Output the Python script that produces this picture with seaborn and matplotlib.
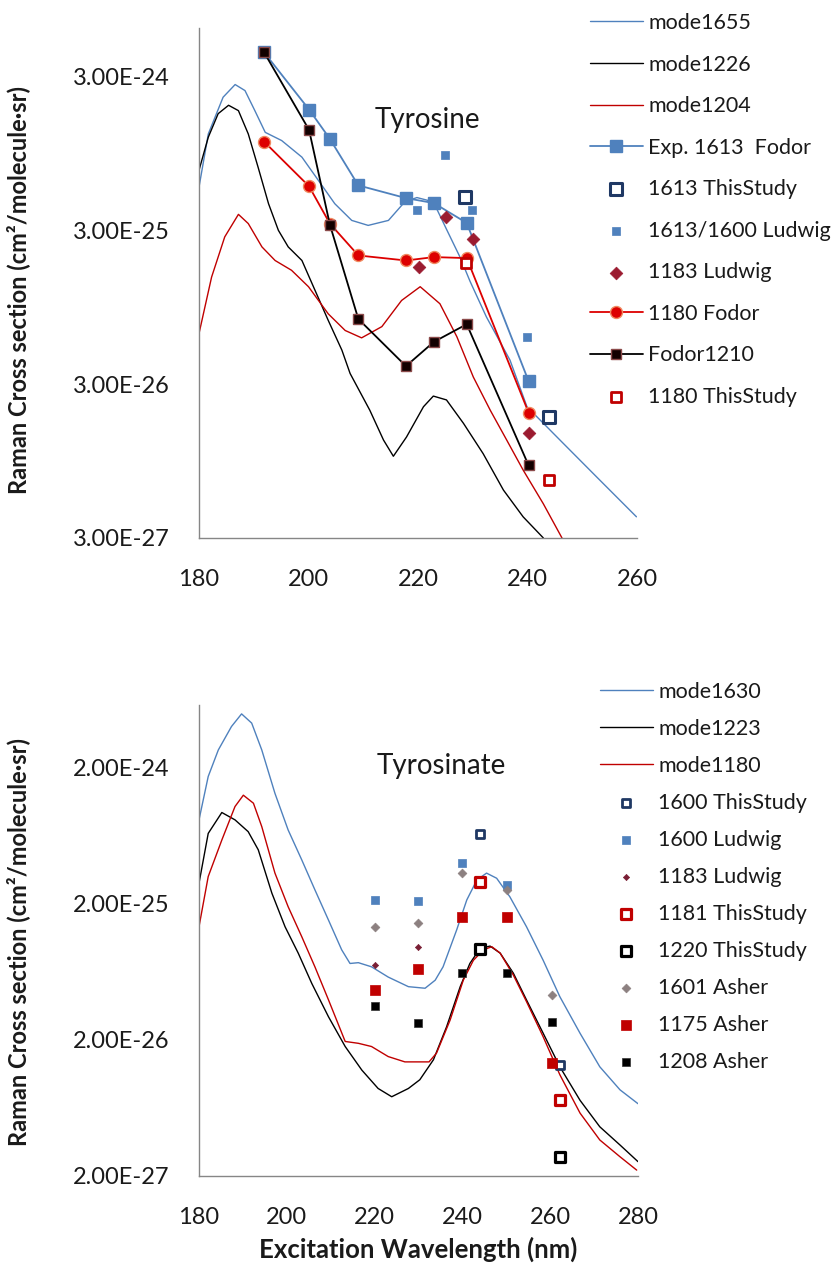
import matplotlib
matplotlib.use("Agg")
import matplotlib.pyplot as plt
from matplotlib.ticker import FixedLocator, FuncFormatter, NullLocator
import seaborn as sns

# ---------------- Tyrosine (top panel) ----------------
tyr_mode1655_nm = [180, 181.7, 184.4, 186.6, 188.4, 190.2, 192.1, 195.1, 198.8, 201.8, 204.8, 207.9,
                   210.9, 214.6, 217.6, 219.8, 222.8, 225.3, 227.7, 229.5, 232.5, 236.8, 239.9, 242.9,
                   246.5, 252.6, 259.9]
tyr_mode1655_val = [5.73e-25, 1.27e-24, 2.20e-24, 2.66e-24, 2.43e-24, 1.80e-24, 1.30e-24, 1.15e-24,
                    8.97e-25, 6.34e-25, 4.47e-25, 3.48e-25, 3.23e-25, 3.48e-25, 4.6e-25, 4.9e-25,
                    4.6e-25, 3.0e-25, 2.0e-25, 1.4e-25, 8.2e-26, 4.3e-26, 2.14e-26, 1.67e-26,
                    1.24e-26, 7.5e-27, 4.12e-27]

tyr_mode1226_nm = [180, 181.7, 183.5, 185.4, 187.2, 189.0, 190.8, 192.7, 194.5, 196.3, 198.8, 201.2,
                   203.6, 206.1, 207.6, 211.2, 213.7, 215.5, 217.9, 221.0, 222.8, 225.2, 228.3, 231.9,
                   235.6, 239.2, 242.9]
tyr_mode1226_val = [7.37e-25, 1.21e-24, 1.72e-24, 1.95e-24, 1.80e-24, 1.27e-24, 7.7e-25, 4.47e-25,
                    3.0e-25, 2.34e-25, 1.91e-25, 1.22e-25, 7.8e-26, 4.99e-26, 3.52e-26, 2.03e-26,
                    1.30e-26, 1.02e-26, 1.36e-26, 2.14e-26, 2.51e-26, 2.37e-26, 1.67e-26, 1.06e-26,
                    6.15e-27, 4.12e-27, 3.0e-27]

tyr_mode1204_nm = [180, 182.3, 184.7, 187.2, 189.0, 191.5, 193.9, 196.9, 200.0, 203.6, 206.7, 209.7,
                   213.4, 217.0, 220.4, 224.0, 227.1, 230.1, 233.2, 236.2, 239.2, 242.9, 246.3]
tyr_mode1204_val = [6.4e-26, 1.49e-25, 2.72e-25, 3.81e-25, 3.32e-25, 2.34e-25, 1.91e-25, 1.65e-25,
                    1.29e-25, 8.6e-26, 6.7e-26, 6.0e-26, 7.1e-26, 1.05e-25, 1.29e-25, 1.0e-25,
                    6.1e-26, 3.34e-26, 2.03e-26, 1.30e-26, 8.3e-27, 5.0e-27, 3.0e-27]

fodor_nm = [191.9, 200.1, 203.9, 209.1, 217.8, 222.9, 228.9, 240.2]
fodor1613_val = [4.3e-24, 1.83e-24, 1.18e-24, 5.88e-25, 4.86e-25, 4.51e-25, 3.35e-25, 3.14e-26]
fodor1180_val = [1.13e-24, 5.8e-25, 3.32e-25, 2.06e-25, 1.91e-25, 2.01e-25, 1.98e-25, 1.96e-26]
fodor1210_val = [4.3e-24, 1.35e-24, 3.27e-25, 7.96e-26, 3.93e-26, 5.65e-26, 7.36e-26, 8.9e-27]

ts1613_nm = [228.6, 244.0]
ts1613_val = [4.94e-25, 1.83e-26]
ludwig1613_nm = [219.8, 224.9, 229.9, 239.9]
ludwig1613_val = [4.05e-25, 9.3e-25, 4.05e-25, 6.1e-26]
ludwig1183_nm = [220.2, 225.2, 230.0, 240.2]
ludwig1183_val = [1.72e-25, 3.66e-25, 2.65e-25, 1.45e-26]
ts1180_nm = [228.7, 244.0]
ts1180_val = [1.83e-25, 7.2e-27]

top_labels = ["mode1655", "mode1226", "mode1204", "Exp. 1613  Fodor", "1613 ThisStudy",
              "1613/1600 Ludwig", "1183 Ludwig", "1180 Fodor", "Fodor1210", "1180 ThisStudy"]
top_yticks = [3e-27, 3e-26, 3e-25, 3e-24]
top_xticks = [180, 200, 220, 240, 260]

# ---------------- Tyrosinate (bottom panel) ----------------
tyn_mode1630_nm = [180, 182.1, 184.4, 187.4, 189.7, 192.0, 194.3, 197.3, 200.3, 203.4, 206.4, 209.5,
                   212.5, 214.4, 216.3, 219.3, 223.1, 227.7, 231.5, 233.8, 235.6, 238.7, 241.0, 243.3,
                   245.5, 247.8, 250.8, 254.6, 258.4, 262.2, 266.8, 271.3, 275.9, 280]
tyn_mode1630_val = [8.3e-25, 1.73e-24, 2.71e-24, 4.03e-24, 4.99e-24, 4.27e-24, 2.71e-24, 1.30e-24,
                    7.0e-25, 4.22e-25, 2.54e-25, 1.52e-25, 9.2e-26, 7.3e-26, 7.4e-26, 6.9e-26,
                    5.8e-26, 4.93e-26, 4.80e-26, 5.5e-26, 6.9e-26, 1.29e-25, 2.14e-25, 3.0e-25,
                    3.37e-25, 3.09e-25, 2.26e-25, 1.36e-25, 7.7e-26, 4.16e-26, 2.24e-26, 1.27e-26,
                    8.6e-27, 6.8e-27]

tyn_mode1223_nm = [180, 182.1, 185.2, 188.2, 191.2, 193.5, 196.6, 199.6, 202.6, 205.7, 209.5, 213.3,
                   217.1, 220.8, 223.9, 227.7, 230.3, 233.4, 236.4, 239.5, 241.7, 244.0, 246.3, 248.6,
                   251.6, 254.6, 258.4, 262.2, 266.8, 271.3, 275.9, 280]
tyn_mode1223_val = [2.84e-25, 6.6e-25, 9.4e-25, 8.3e-25, 6.8e-25, 5.0e-25, 2.40e-25, 1.36e-25,
                    8.7e-26, 5.2e-26, 2.96e-26, 1.79e-26, 1.20e-26, 8.8e-27, 7.65e-27, 8.8e-27,
                    1.02e-26, 1.43e-26, 2.5e-26, 4.93e-26, 7.3e-26, 9.4e-26, 9.8e-26, 8.7e-26,
                    6.2e-26, 3.94e-26, 2.24e-26, 1.27e-26, 7.2e-27, 4.6e-27, 3.38e-27, 2.55e-27]

tyn_mode1180_nm = [180, 182.1, 185.2, 188.2, 190.1, 192.4, 194.3, 197.3, 200.3, 203.4, 206.4, 209.5,
                   213.3, 216.3, 219.3, 223.1, 226.9, 232.4, 234.1, 237.2, 240.2, 242.5, 244.8, 246.7,
                   248.6, 251.6, 254.6, 258.4, 262.2, 266.8, 271.3, 275.9, 279.7]
tyn_mode1180_val = [1.36e-25, 3.18e-25, 5.9e-25, 1.04e-24, 1.26e-24, 1.10e-24, 7.4e-25, 3.37e-25,
                    1.91e-25, 1.15e-25, 6.9e-26, 3.94e-26, 1.95e-26, 1.89e-26, 1.79e-26, 1.51e-26,
                    1.38e-26, 1.38e-26, 1.6e-26, 2.8e-26, 5.5e-26, 7.7e-26, 9.2e-26, 9.7e-26,
                    8.7e-26, 6.0e-26, 3.83e-26, 2.11e-26, 1.11e-26, 5.8e-27, 3.68e-27, 2.77e-27,
                    2.21e-27]

ts_nm = [243.9, 262.2]
ts1600_val = [6.55e-25, 1.32e-26]
ts1181_val = [2.92e-25, 7.2e-27]
ts1220_val = [9.3e-26, 2.74e-27]
ludwig_b_nm = [220, 230, 240, 250.2]
ludwig1600_val = [2.15e-25, 2.10e-25, 4.03e-25, 2.76e-25]
ludwig1183b_nm = [220, 230]
ludwig1183b_val = [7.1e-26, 9.7e-26]
asher_nm = [220, 230, 240, 250.2, 260.3]
asher1601_val = [1.36e-25, 1.46e-25, 3.40e-25, 2.54e-25, 4.29e-26]
asher1175_val = [4.67e-26, 6.7e-26, 1.60e-25, 1.61e-25, 1.36e-26]
asher1208_val = [3.56e-26, 2.68e-26, 6.25e-26, 6.25e-26, 2.73e-26]

bot_labels = ["mode1630", "mode1223", "mode1180", "1600 ThisStudy", "1600 Ludwig", "1183 Ludwig",
              "1181 ThisStudy", "1220 ThisStudy", "1601 Asher", "1175 Asher", "1208 Asher"]
bot_yticks = [2e-27, 2e-26, 2e-25, 2e-24]
bot_xticks = [180, 200, 220, 240, 260, 280]

# ---------------- styling ----------------
sns.set_style("white")
plt.rcParams["font.family"] = ["Lato", "DejaVu Sans"]

BLUE = "#4F81BD"
NAVY = "#1F3864"
RED = "#C00000"
BRIGHT_RED = "#DD0000"
DARKRED = "#9B1B30"
GREY_AX = "#868686"

TICK_FS = 17
LEG_FS = 15.5

fig = plt.figure(figsize=(8.32, 12.74), dpi=100)
ax1 = fig.add_axes([199 / 832, 1 - 538 / 1274, 438 / 832, 510 / 1274])
ax2 = fig.add_axes([199 / 832, 1 - 1176 / 1274, 439 / 832, 471 / 1274])

def curve(ax, x, y, color, label):
    sns.lineplot(x=x, y=y, ax=ax, color=color, lw=1.0, sort=False, estimator=None,
                 label=label, zorder=2)

def dataline(ax, x, y, color, marker, ms, label, mfc=None, mec=None, mew=1.0):
    sns.lineplot(x=x, y=y, ax=ax, color=color, lw=1.3, sort=False, estimator=None,
                 marker=marker, markersize=ms, markerfacecolor=mfc or color,
                 markeredgecolor=mec or color, markeredgewidth=mew, label=label, zorder=3)

def points(ax, x, y, face, edge, marker, size, lw, label):
    sns.scatterplot(x=x, y=y, ax=ax, color=face, edgecolor=edge, marker=marker, s=size,
                    linewidth=lw, label=label, zorder=4)

# ----- top panel -----
curve(ax1, tyr_mode1655_nm, tyr_mode1655_val, BLUE, "mode1655")
curve(ax1, tyr_mode1226_nm, tyr_mode1226_val, "black", "mode1226")
curve(ax1, tyr_mode1204_nm, tyr_mode1204_val, RED, "mode1204")
dataline(ax1, fodor_nm, fodor1613_val, BLUE, "s", 8.6, "Exp. 1613  Fodor")
dataline(ax1, fodor_nm, fodor1180_val, BRIGHT_RED, "o", 8.6, "1180 Fodor", mec="#F08A60")
dataline(ax1, fodor_nm, fodor1210_val, "black", "s", 7.0, "Fodor1210", mfc="#120000", mec="#8B4A4A")
points(ax1, ts1613_nm, ts1613_val, "white", NAVY, "s", 80, 2.2, "1613 ThisStudy")
points(ax1, ludwig1613_nm, ludwig1613_val, BLUE, BLUE, "s", 26, 0.5, "1613/1600 Ludwig")
points(ax1, ludwig1183_nm, ludwig1183_val, DARKRED, DARKRED, "D", 42, 0.5, "1183 Ludwig")
points(ax1, ts1180_nm, ts1180_val, "white", RED, "s", 52, 2.0, "1180 ThisStudy")

# ----- bottom panel -----
curve(ax2, tyn_mode1630_nm, tyn_mode1630_val, BLUE, "mode1630")
curve(ax2, tyn_mode1223_nm, tyn_mode1223_val, "black", "mode1223")
curve(ax2, tyn_mode1180_nm, tyn_mode1180_val, RED, "mode1180")
points(ax2, ts_nm, ts1600_val, "white", NAVY, "s", 30, 2.0, "1600 ThisStudy")
points(ax2, ludwig_b_nm, ludwig1600_val, BLUE, BLUE, "s", 34, 0.5, "1600 Ludwig")
points(ax2, ludwig1183b_nm, ludwig1183b_val, "#7A1F35", "#7A1F35", "D", 10, 0.5, "1183 Ludwig")
points(ax2, ts_nm, ts1181_val, "white", RED, "s", 60, 2.3, "1181 ThisStudy")
points(ax2, ts_nm, ts1220_val, "white", "black", "s", 60, 2.3, "1220 ThisStudy")
points(ax2, asher_nm, asher1601_val, "#8C8080", "#8C8080", "D", 20, 0.5, "1601 Asher")
points(ax2, asher_nm, asher1175_val, RED, RED, "s", 42, 0.5, "1175 Asher")
points(ax2, asher_nm, asher1208_val, "black", "#333333", "s", 34, 0.5, "1208 Asher")

sci = FuncFormatter(lambda v, p: f"{v:.2E}")

for ax, xt, yt, ylim in ((ax1, top_xticks, top_yticks, (3e-27, 6.2e-24)),
                         (ax2, bot_xticks, bot_yticks, (2e-27, 5.8e-24))):
    ax.set_yscale("log")
    ax.set_xlim(xt[0], xt[-1])
    ax.set_ylim(*ylim)
    ax.xaxis.set_major_locator(FixedLocator(xt))
    ax.yaxis.set_major_locator(FixedLocator(yt))
    ax.yaxis.set_minor_locator(NullLocator())
    ax.xaxis.set_minor_locator(NullLocator())
    ax.yaxis.set_major_formatter(sci)
    ax.xaxis.set_major_formatter(FuncFormatter(lambda v, p: f"{v:.0f}"))
    for s in ("top", "right"):
        ax.spines[s].set_visible(False)
    for s in ("left", "bottom"):
        ax.spines[s].set_color(GREY_AX)
        ax.spines[s].set_linewidth(1.0)
    ax.tick_params(axis="both", which="major", direction="out", length=7, width=1.0,
                   color=GREY_AX, labelsize=TICK_FS, labelcolor="#1a1a1a")
    ax.tick_params(axis="y", pad=14)
    ax.tick_params(axis="x", pad=15)
    ax.set_xlabel("")
    ax.set_ylabel("Raman Cross section (cm²/molecule·sr)", fontsize=17, fontweight="bold",
                  color="#1a1a1a")
    ax.patch.set_alpha(0)

ax1.yaxis.set_label_coords((30 - 199) / 438, (538 - 290) / 510)
ax2.yaxis.set_label_coords((30 - 199) / 439, (1176 - 942) / 471)
ax2.set_xlabel("Excitation Wavelength (nm)", fontsize=18.5, fontweight="bold", color="#1a1a1a")
ax2.xaxis.set_label_coords(0.5, (1176 - 1237) / 471)

ax1.text(0.522, 0.82, "Tyrosine", transform=ax1.transAxes, ha="center", va="center",
         fontsize=20, color="#1a1a1a")
ax2.text(0.553, 0.870, "Tyrosinate", transform=ax2.transAxes, ha="center", va="center",
         fontsize=20, color="#1a1a1a")

def ordered_legend(ax, order, x_px, y_px, spacing):
    h, l = ax.get_legend_handles_labels()
    lut = dict(zip(l, h))
    leg = ax.legend([lut[k] for k in order], order, loc="upper left",
                    bbox_to_anchor=(x_px / 832, 1 - y_px / 1274), bbox_transform=fig.transFigure,
                    frameon=False, fontsize=LEG_FS, handlelength=2.45, handletextpad=0.25,
                    labelspacing=spacing, borderpad=0, borderaxespad=0, scatterpoints=1,
                    markerfirst=True)
    for t in leg.get_texts():
        t.set_color("#1a1a1a")
    return leg

ordered_legend(ax1, top_labels, 590, 13, 1.0)
ordered_legend(ax2, bot_labels, 600, 682, 0.79)

fig.savefig("out.png", dpi=100)
